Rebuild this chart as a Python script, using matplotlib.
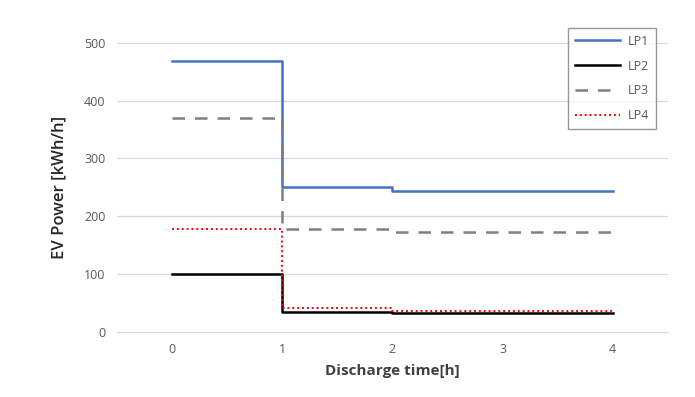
import matplotlib
matplotlib.use("Agg")
from matplotlib import pyplot as plt

# discharge time [h] and EV power per load profile [kWh/h]
hours = [0, 1, 2, 3, 4]
lp1 = [469, 251, 244, 244, 244]
lp2 = [100, 35, 33, 33, 33]
lp3 = [370, 178, 173, 173, 173]
lp4 = [178, 42, 37, 37, 37]

plt.rcParams['font.family'] = ['Open Sans', 'DejaVu Sans']

fig = plt.figure(figsize=(6.95, 3.97), dpi=100)
ax = fig.add_axes([0.168, 0.164, 0.793, 0.728])

ax.plot(hours, lp1, drawstyle='steps-post', color='#4472C4', lw=1.8, label='LP1')
ax.plot(hours, lp2, drawstyle='steps-post', color='black', lw=1.8, label='LP2')
ax.plot(hours, lp3, drawstyle='steps-post', color='#7F7F7F', lw=1.8,
        dashes=(5, 4), label='LP3')
ax.plot(hours, lp4, drawstyle='steps-post', color='#FF0000', lw=1.4,
        linestyle=(0, (1, 1.5)), label='LP4')

ax.set_xlim(-0.5, 4.5)
ax.set_ylim(0, 500)
ax.set_xticks(hours)
ax.set_yticks(range(0, 501, 100))
ax.grid(axis='y', color='#D9D9D9', lw=0.9)
ax.set_axisbelow(True)
for s in ['left', 'right', 'top']:
    ax.spines[s].set_visible(False)
ax.spines['bottom'].set_color('#D9D9D9')
ax.tick_params(length=0, colors='#595959', labelsize=9, pad=8)

ax.set_xlabel('Discharge time[h]', fontsize=11, fontweight='bold', color='#404040', labelpad=6)
ax.set_ylabel('EV Power [kWh/h]', fontsize=12, fontweight='semibold', color='#262626', labelpad=12)

leg = ax.legend(loc='upper right', bbox_to_anchor=(0.978, 1.052), fontsize=9,
                frameon=True, fancybox=False, handlelength=3.6, labelspacing=0.95,
                borderpad=0.55, borderaxespad=0, handletextpad=0.6)
leg.get_frame().set_edgecolor('#7F7F7F')
leg.get_frame().set_linewidth(1.0)
for t in leg.get_texts():
    t.set_color('#595959')

fig.savefig('out.png', dpi=100)
